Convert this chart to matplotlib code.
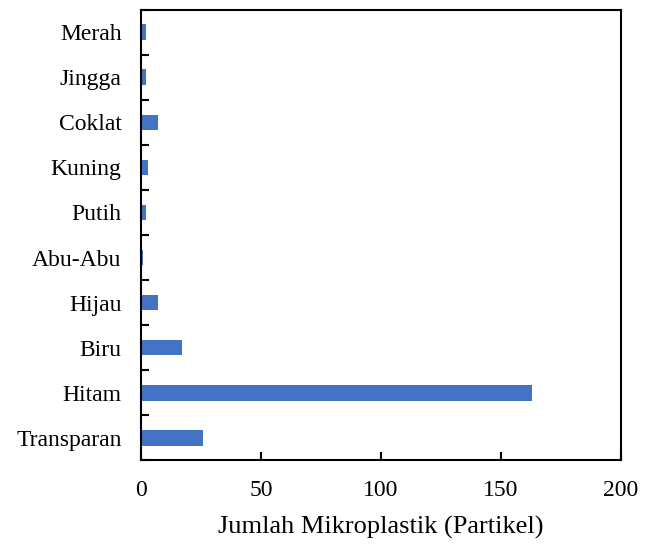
import numpy as np
import matplotlib.pyplot as plt

plt.rcParams['font.family'] = ['Liberation Serif', 'DejaVu Serif']

categories = ["Transparan", "Hitam", "Biru", "Hijau", "Abu-Abu", "Putih",
              "Kuning", "Coklat", "Jingga", "Merah"]
counts = [26, 163, 17, 7, 1, 2, 3, 7, 2, 2]

fig = plt.figure(figsize=(6.51, 5.44), dpi=100)
ax = fig.add_axes([0.2166, 0.154, 0.7374, 0.828])

y = np.arange(len(categories))
ax.barh(y, counts, height=0.35, color='#4472C4')

ax.set_xlim(0, 200)
ax.set_ylim(-0.5, len(categories) - 0.5)
ax.set_xticks([0, 50, 100, 150, 200])
ax.set_yticks(y)
ax.set_yticklabels(categories)
ax.set_yticks(np.arange(-0.5, len(categories), 1), minor=True)

ax.tick_params(axis='y', which='major', length=0, pad=14, labelsize=17)
ax.tick_params(axis='y', which='minor', direction='in', length=6, width=1.5)
ax.tick_params(axis='x', direction='in', length=6, width=1.5, labelsize=17, pad=14)

for s in ax.spines.values():
    s.set_linewidth(1.5)

ax.set_xlabel('Jumlah Mikroplastik (Partikel)', fontsize=19, labelpad=11)

fig.savefig('out.png', dpi=100)
